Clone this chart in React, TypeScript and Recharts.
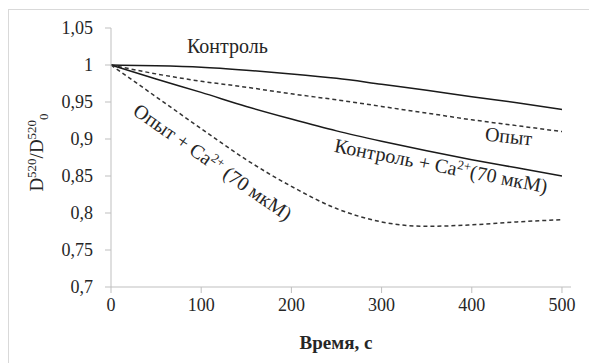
import { LineChart, Line, XAxis, YAxis, ReferenceDot, Label } from 'recharts';

const time = [0, 50, 100, 150, 200, 250, 300, 350, 400, 450, 500];
const kontrol = [1, 0.999, 0.997, 0.993, 0.988, 0.982, 0.974, 0.966, 0.957, 0.949, 0.94];
const opyt = [1, 0.988, 0.978, 0.97, 0.961, 0.953, 0.944, 0.935, 0.926, 0.918, 0.91];
const kontrolCa = [1, 0.981, 0.963, 0.944, 0.927, 0.911, 0.897, 0.884, 0.872, 0.861, 0.85];
const opytCa = [1, 0.957, 0.914, 0.872, 0.836, 0.806, 0.788, 0.782, 0.784, 0.788, 0.791];

const xTicks = [0, 100, 200, 300, 400, 500];
const yTicks = [0.7, 0.75, 0.8, 0.85, 0.9, 0.95, 1, 1.05];

// label anchors in data units + rotation
const labels = [
  { id: 'k', x: 129, y: 1.026, angle: 0 },
  { id: 'o', x: 441, y: 0.904, angle: 6 },
  { id: 'kca', x: 366, y: 0.864, angle: 11 },
  { id: 'oca', x: 113, y: 0.869, angle: 35 },
];

const data = time.map((t, i) => ({
  t,
  kontrol: kontrol[i],
  opyt: opyt[i],
  kontrolCa: kontrolCa[i],
  opytCa: opytCa[i],
}));

const FONT = "'Times New Roman', Tinos, 'Liberation Serif', 'DejaVu Serif', serif";
const AXIS = '#bfbfbf';
const TXT = '#262626';

const fmt = (v: number) => String(Math.round(v * 100) / 100).replace('.', ',');

function labelText(id: string) {
  if (id === 'k') return <>Контроль</>;
  if (id === 'o') return <>Опыт</>;
  if (id === 'kca')
    return (
      <>
        Контроль + Ca<tspan dy={-7} fontSize={13}>2+</tspan>
        <tspan dy={7}>(70 мкМ)</tspan>
      </>
    );
  return (
    <>
      Опыт + Ca<tspan dy={-7} fontSize={13}>2+</tspan>
      <tspan dy={7}> (70 мкМ)</tspan>
    </>
  );
}

export default function App() {
  return (
    <div
      style={{
        position: 'relative',
        top: 1,
        width: 620,
        height: 380,
        borderLeft: '1px solid #d9d9d9',
        borderTop: '1px solid #d9d9d9',
        background: '#fff',
        fontFamily: FONT,
      }}
    >
      <LineChart
        width={588}
        height={353}
        data={data}
        margin={{ top: 18, right: 26, left: 0, bottom: 0 }}
        style={{ fontFamily: FONT }}
      >
        <XAxis
          dataKey="t"
          type="number"
          domain={[0, 510]}
          ticks={xTicks}
          height={76}
          stroke={AXIS}
          tickSize={6}
          tickMargin={5}
          tick={{ fill: TXT, fontSize: 18, style: { fontFamily: FONT } }}
        >
          <Label
            content={({ viewBox }: any) => (
              <text
                x={viewBox.x + viewBox.width / 2 - 5}
                y={viewBox.y + 62}
                textAnchor="middle"
                style={{ fontFamily: FONT, fontWeight: 'bold', fontSize: 19 }}
                fill={TXT}
              >
                Время, с
              </text>
            )}
          />
        </XAxis>
        <YAxis
          type="number"
          domain={[0.7, 1.05]}
          ticks={yTicks}
          width={102}
          stroke={AXIS}
          tickSize={6}
          tickMargin={12}
          tickFormatter={fmt}
          tick={{ fill: TXT, fontSize: 18, style: { fontFamily: FONT } }}
        >
          <Label
            content={({ viewBox }: any) => {
              const cx = viewBox.x + 34;
              const cy = viewBox.y + viewBox.height / 2 - 5;
              return (
                <text
                  x={cx}
                  y={cy}
                  transform={`rotate(-90 ${cx} ${cy})`}
                  textAnchor="middle"
                  style={{ fontFamily: FONT, fontSize: 19 }}
                  fill={TXT}
                >
                  D<tspan dy={-7} fontSize={13}>520</tspan>
                  <tspan dy={7}>/D</tspan>
                  <tspan dy={-7} fontSize={13}>520</tspan>
                  <tspan dy={12} fontSize={13}>0</tspan>
                </text>
              );
            }}
          />
        </YAxis>
        <Line type="monotone" dataKey="kontrol" stroke="#1a1a1a" strokeWidth={1.5} dot={false} isAnimationActive={false} />
        <Line type="monotone" dataKey="opyt" stroke="#333" strokeWidth={1.5} strokeDasharray="4 3" dot={false} isAnimationActive={false} />
        <Line type="monotone" dataKey="kontrolCa" stroke="#1a1a1a" strokeWidth={1.5} dot={false} isAnimationActive={false} />
        <Line type="monotone" dataKey="opytCa" stroke="#333" strokeWidth={1.5} strokeDasharray="4 3" dot={false} isAnimationActive={false} />
        {labels.map((l) => (
          <ReferenceDot
            key={l.id}
            x={l.x}
            y={l.y}
            r={0}
            ifOverflow="visible"
            shape={(p: any) => (
              <text
                x={p.cx}
                y={p.cy}
                dy="0.35em"
                textAnchor="middle"
                transform={`rotate(${l.angle} ${p.cx} ${p.cy})`}
                style={{ fontFamily: FONT, fontSize: 20 }}
                fill={TXT}
              >
                {labelText(l.id)}
              </text>
            )}
          />
        ))}
      </LineChart>
    </div>
  );
}
